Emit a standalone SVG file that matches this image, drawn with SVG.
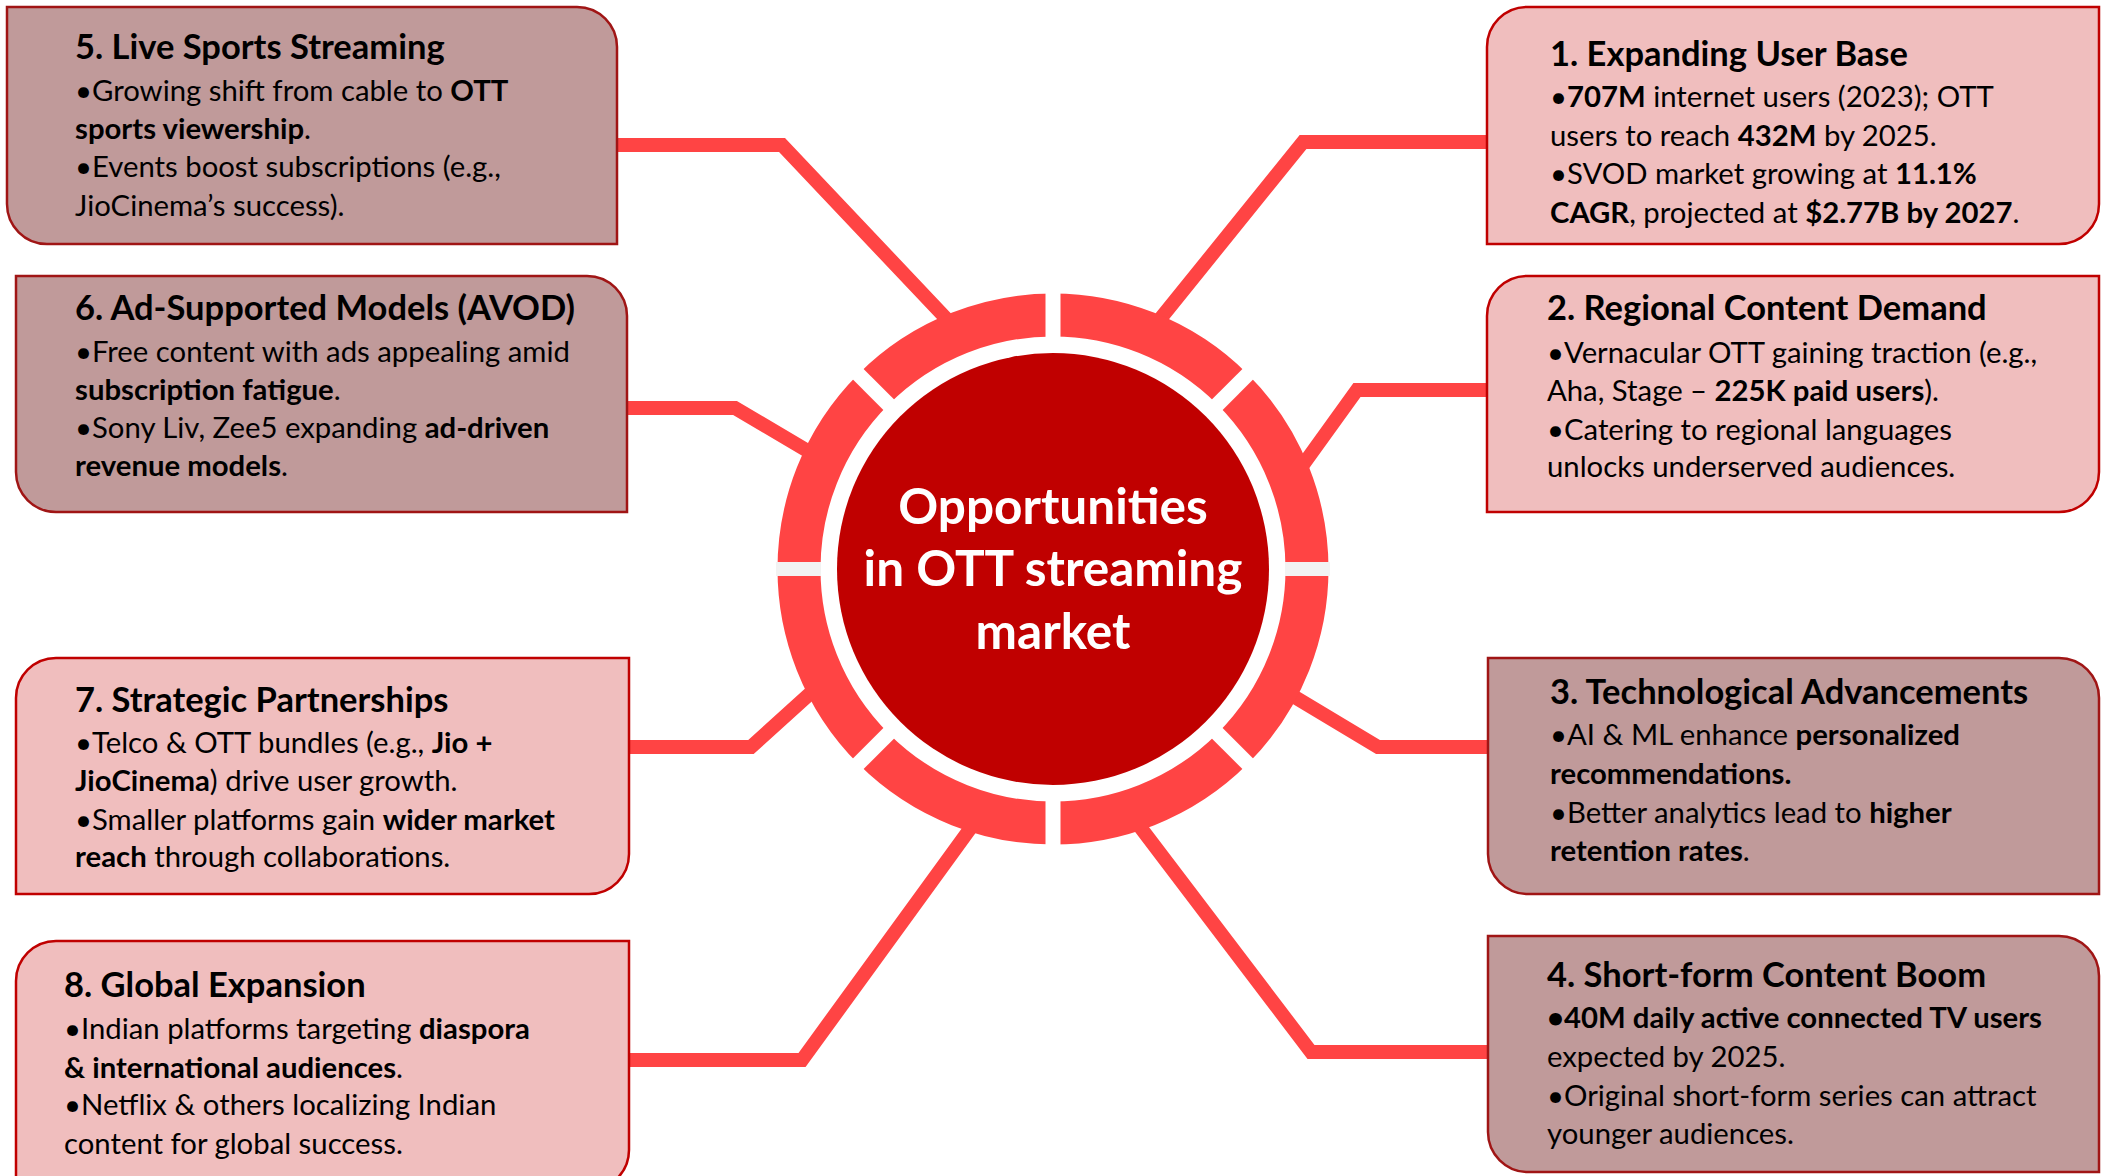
<svg xmlns="http://www.w3.org/2000/svg" width="2102" height="1176" viewBox="0 0 2102 1176">
<style>
.conn{fill:none;stroke:#FF4444;stroke-width:14;stroke-linejoin:miter}
.pink{fill:#F0BEBE;stroke:#C00000;stroke-width:2.5}
.dusty{fill:#C09A9A;stroke:#A01515;stroke-width:2.5}
.t{font-family:Lato,"Open Sans",sans-serif;fill:#000}
.title{font-size:34.5px;font-weight:bold}
.body{font-size:29.3px}
.b{font-weight:bold}
.center{font-family:Lato,"Open Sans",sans-serif;font-size:49.5px;font-weight:bold;fill:#fff}
</style>
<rect width="2102" height="1176" fill="#fff"/>
<g id="connectors">
<path class="conn" d="M610,145 H782 L958,331"/>
<path class="conn" d="M620,408 H735 L823,460"/>
<path class="conn" d="M622,747 H751 L825,680"/>
<path class="conn" d="M622,1060 H802 L983,811"/>
<path class="conn" d="M1494,142 H1303 L1148,334"/>
<path class="conn" d="M1494,390 H1357 L1295,476"/>
<path class="conn" d="M1495,747 H1378 L1278,687"/>
<path class="conn" d="M1495,1052 H1311 L1128,811"/>
</g>
<g id="hub">
<circle cx="1053" cy="569" r="254" fill="none" stroke="#FF4444" stroke-width="43"/>
<g stroke="#fff" stroke-width="15">
<line x1="1053" y1="349" x2="1053" y2="285"/>
<line x1="1053" y1="789" x2="1053" y2="853"/>
<line x1="897.4" y1="413.4" x2="852" y2="368"/>
<line x1="1208.6" y1="413.4" x2="1254" y2="368"/>
<line x1="897.4" y1="724.6" x2="852" y2="770"/>
<line x1="1208.6" y1="724.6" x2="1254" y2="770"/>
</g>
<g stroke="#F2F2F2" stroke-width="14">
<line x1="776" y1="569" x2="821" y2="569"/>
<line x1="1285" y1="569" x2="1330" y2="569"/>
</g>
<circle cx="1053" cy="569" r="216" fill="#C00000"/>
<text class="center" text-anchor="middle"><tspan x="1053" y="524">Opportunities</tspan><tspan x="1053" y="586">in OTT streaming</tspan><tspan x="1053" y="649">market</tspan></text>
</g>
<g id="node5">
<path class="dusty" d="M7,7 H577 A40,40 0 0 1 617,47 V244 H47 A40,40 0 0 1 7,204 Z"/>
<text class="t title" x="75" y="59">5. Live Sports Streaming</text>
<text class="t body" x="75" y="101">•Growing shift from cable to <tspan class="b">OTT</tspan></text>
<text class="t body" x="75" y="139"><tspan class="b">sports viewership</tspan>.</text>
<text class="t body" x="75" y="177">•Events boost subscriptions (e.g.,</text>
<text class="t body" x="75" y="216">JioCinema’s success).</text>
</g>
<g id="node6">
<path class="dusty" d="M16,276 H587 A40,40 0 0 1 627,316 V512 H56 A40,40 0 0 1 16,472 Z"/>
<text class="t title" x="75" y="320">6. Ad-Supported Models (AVOD)</text>
<text class="t body" x="75" y="362">•Free content with ads appealing amid</text>
<text class="t body" x="75" y="400"><tspan class="b">subscription fatigue</tspan>.</text>
<text class="t body" x="75" y="438">•Sony Liv, Zee5 expanding <tspan class="b">ad-driven</tspan></text>
<text class="t body" x="75" y="476"><tspan class="b">revenue models</tspan>.</text>
</g>
<g id="node7">
<path class="pink" d="M56,658 H629 V854 A40,40 0 0 1 589,894 H16 V698 A40,40 0 0 1 56,658 Z"/>
<text class="t title" x="75" y="712">7. Strategic Partnerships</text>
<text class="t body" x="75" y="753">•Telco &amp; OTT bundles (e.g., <tspan class="b">Jio +</tspan></text>
<text class="t body" x="75" y="791"><tspan class="b">JioCinema</tspan>) drive user growth.</text>
<text class="t body" x="75" y="830">•Smaller platforms gain <tspan class="b">wider market</tspan></text>
<text class="t body" x="75" y="867"><tspan class="b">reach</tspan> through collaborations.</text>
</g>
<g id="node8">
<path class="pink" d="M56,941 H629 V1150 A40,40 0 0 1 589,1190 H16 V981 A40,40 0 0 1 56,941 Z"/>
<text class="t title" x="64" y="997">8. Global Expansion</text>
<text class="t body" x="64" y="1039">•Indian platforms targeting <tspan class="b">diaspora</tspan></text>
<text class="t body" x="64" y="1078"><tspan class="b">&amp; international audiences</tspan>.</text>
<text class="t body" x="64" y="1115">•Netflix &amp; others localizing Indian</text>
<text class="t body" x="64" y="1154">content for global success.</text>
</g>
<g id="node1">
<path class="pink" d="M1527,7 H2099 V204 A40,40 0 0 1 2059,244 H1487 V47 A40,40 0 0 1 1527,7 Z"/>
<text class="t title" x="1550" y="66">1. Expanding User Base</text>
<text class="t body" x="1550" y="107">•<tspan class="b">707M</tspan> internet users (2023); OTT</text>
<text class="t body" x="1550" y="146">users to reach <tspan class="b">432M</tspan> by 2025.</text>
<text class="t body" x="1550" y="184">•SVOD market growing at <tspan class="b">11.1%</tspan></text>
<text class="t body" x="1550" y="223"><tspan class="b">CAGR</tspan>, projected at <tspan class="b">$2.77B by 2027</tspan>.</text>
</g>
<g id="node2">
<path class="pink" d="M1527,276 H2099 V472 A40,40 0 0 1 2059,512 H1487 V316 A40,40 0 0 1 1527,276 Z"/>
<text class="t title" x="1547" y="320">2. Regional Content Demand</text>
<text class="t body" x="1547" y="363">•Vernacular OTT gaining traction (e.g.,</text>
<text class="t body" x="1547" y="401">Aha, Stage – <tspan class="b">225K paid users</tspan>).</text>
<text class="t body" x="1547" y="440">•Catering to regional languages</text>
<text class="t body" x="1547" y="477">unlocks underserved audiences.</text>
</g>
<g id="node3">
<path class="dusty" d="M1488,658 H2059 A40,40 0 0 1 2099,698 V894 H1528 A40,40 0 0 1 1488,854 Z"/>
<text class="t title" x="1550" y="704">3. Technological Advancements</text>
<text class="t body" x="1550" y="745">•AI &amp; ML enhance <tspan class="b">personalized</tspan></text>
<text class="t body" x="1550" y="784"><tspan class="b">recommendations.</tspan></text>
<text class="t body" x="1550" y="823">•Better analytics lead to <tspan class="b">higher</tspan></text>
<text class="t body" x="1550" y="861"><tspan class="b">retention rates</tspan>.</text>
</g>
<g id="node4">
<path class="dusty" d="M1488,936 H2059 A40,40 0 0 1 2099,976 V1172 H1528 A40,40 0 0 1 1488,1132 Z"/>
<text class="t title" x="1547" y="987">4. Short-form Content Boom</text>
<text class="t body" x="1547" y="1028"><tspan class="b">•40M daily active connected TV users</tspan></text>
<text class="t body" x="1547" y="1067">expected by 2025.</text>
<text class="t body" x="1547" y="1106">•Original short-form series can attract</text>
<text class="t body" x="1547" y="1144">younger audiences.</text>
</g>
</svg>
